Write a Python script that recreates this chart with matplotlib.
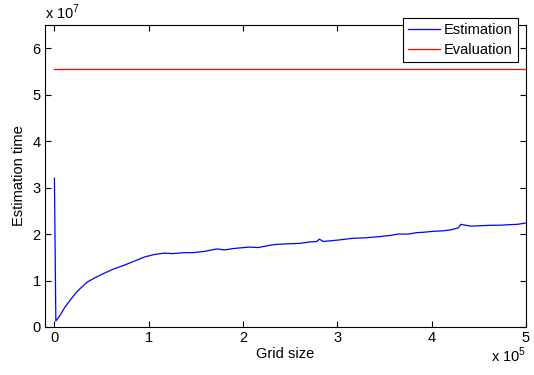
import numpy as np
import matplotlib.pyplot as plt

plt.rcParams['font.family'] = ['Liberation Sans', 'DejaVu Sans']
plt.rcParams['mathtext.fontset'] = 'custom'
plt.rcParams['mathtext.rm'] = 'Liberation Sans'

# grid size (x) and estimation time (y)
grid = [0, 1500, 5000, 10600, 16000, 23400, 29000, 35000, 44000, 53000, 63000,
        74000, 85000, 96000, 106000, 116000, 126000, 137000, 147000, 160000,
        172000, 181000, 190000, 207000, 216000, 229000, 236000, 248000, 260000,
        271000, 278000, 281000, 285000, 300000, 317000, 330000, 342000, 356000,
        364000, 375000, 384000, 392000, 402000, 412000, 420000, 428000, 431000,
        436000, 442000, 452000, 463000, 472000, 480000, 491000, 500000]
est = [3.2, 0.13, 0.22, 0.41, 0.56, 0.75, 0.86, 0.97, 1.07, 1.16, 1.25,
       1.33, 1.42, 1.51, 1.56, 1.59, 1.58, 1.60, 1.60, 1.63,
       1.68, 1.66, 1.69, 1.72, 1.71, 1.76, 1.78, 1.79, 1.80,
       1.83, 1.84, 1.89, 1.84, 1.87, 1.91, 1.92, 1.94, 1.97,
       2.00, 2.00, 2.03, 2.04, 2.06, 2.07, 2.09, 2.13, 2.21,
       2.19, 2.17, 2.18, 2.19, 2.19, 2.20, 2.21, 2.24]
est = [v * 1e7 for v in est]
eval_time = 5.55e7

fig = plt.figure(figsize=(5.34, 3.75), dpi=100)
ax = fig.add_axes([45/534, 48/375, 481/534, 302/375])
ax.plot(grid, est, c='blue', lw=0.9, label='Estimation')
ax.plot([0, 500000], [eval_time, eval_time], c='red', lw=0.9, label='Evaluation')

ax.set_xlim(-10000, 500000)
ax.set_ylim(0, 6.5e7)
ax.set_xticks(np.arange(0, 6) * 1e5)
ax.set_xticklabels(['0', '1', '2', '3', '4', '5'])
ax.set_yticks(np.arange(0, 7) * 1e7)
ax.set_yticklabels(['0', '1', '2', '3', '4', '5', '6'])
ax.tick_params(direction='in', top=True, right=True, length=4, labelsize=10.5, pad=3)
ax.set_xlabel('Grid size', fontsize=10.5, labelpad=1)
ax.set_ylabel('Estimation time', fontsize=10.5, labelpad=5)

fig.text(45/534, 1 - 19/375, r'x 10$^{7}$', fontsize=10.5, va='baseline', ha='left')
fig.text(526/534, 1 - 362/375, r'x 10$^{5}$', fontsize=10.5, va='baseline', ha='right')

leg = ax.legend(loc='upper right', bbox_to_anchor=(518/534, 1 - 18/375),
                bbox_transform=fig.transFigure, borderaxespad=0, fontsize=10.5,
                fancybox=False, framealpha=1, edgecolor='black',
                handlelength=2.2, handletextpad=0.3, borderpad=0.35, labelspacing=0.4)
leg.get_frame().set_linewidth(0.8)

fig.savefig('out.png', dpi=100)
